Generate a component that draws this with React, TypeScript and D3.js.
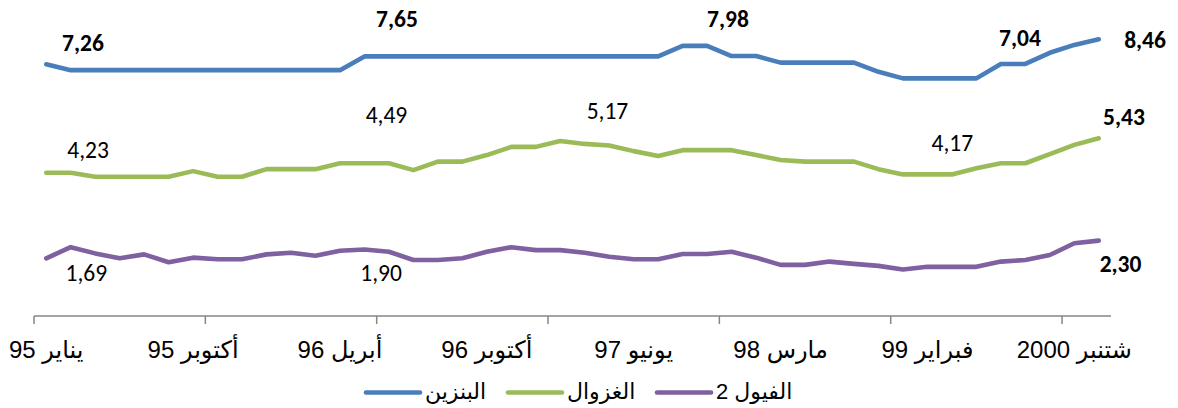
import React from 'react';
import * as d3 from 'd3';

// price series, one value per price-change date (44 dates)
const benzine = [
  7.68, 7.5, 7.5, 7.5, 7.5, 7.5, 7.5, 7.5, 7.5, 7.5, 7.5, 7.5, 7.5,
  7.92, 7.92, 7.92, 7.92, 7.92, 7.92, 7.92, 7.92, 7.92, 7.92, 7.92, 7.92, 7.92,
  8.24, 8.24, 7.93, 7.93, 7.73, 7.73, 7.73, 7.73, 7.45, 7.25, 7.25, 7.25, 7.25,
  7.69, 7.69, 8.03, 8.27, 8.44,
];
const gasoil = [
  4.37, 4.37, 4.25, 4.25, 4.25, 4.25, 4.42, 4.25, 4.25, 4.48, 4.48, 4.48, 4.66,
  4.66, 4.66, 4.45, 4.71, 4.71, 4.91, 5.16, 5.16, 5.34, 5.25, 5.2, 5.03, 4.88,
  5.06, 5.06, 5.06, 4.91, 4.76, 4.71, 4.71, 4.71, 4.48, 4.32, 4.32, 4.32, 4.51,
  4.66, 4.66, 4.94, 5.22, 5.42,
];
const fuel2 = [
  1.76, 2.1, 1.91, 1.76, 1.88, 1.64, 1.78, 1.73, 1.73, 1.88, 1.93, 1.84, 1.99,
  2.03, 1.96, 1.71, 1.71, 1.76, 1.96, 2.1, 2.01, 2.01, 1.93, 1.81, 1.73, 1.73,
  1.89, 1.89, 1.96, 1.78, 1.56, 1.56, 1.66, 1.59, 1.53, 1.42, 1.5, 1.5, 1.5,
  1.66, 1.71, 1.86, 2.22, 2.3,
];

const tickLabels = [
  'يناير 95', 'أكتوبر 95', 'أبريل 96', 'أكتوبر 96',
  'يونيو 97', 'مارس 98', 'فبراير 99', 'شتنبر 2000',
];
const labelEvery = 6;
const tickEvery = 7;

const seriesNames = ['البنزين', 'الغزوال', 'الفيول 2'];
const seriesColors = ['#4a7ebb', '#9bbb59', '#7f60a0'];

// value labels: text, category position, value position, bold
const valueLabels: [string, number, number, boolean][] = [
  ['7,26', 1.5, 8.08, true],
  ['7,65', 14.33, 8.82, true],
  ['7,98', 27.85, 8.83, true],
  ['7,04', 39.78, 8.24, true],
  ['8,46', 44.89, 8.18, true],
  ['4,23', 1.71, 4.82, false],
  ['4,49', 13.9, 5.89, false],
  ['5,17', 22.93, 6.01, false],
  ['4,17', 37.02, 5.02, false],
  ['5,43', 44.03, 5.83, true],
  ['1,69', 1.64, 1.07, false],
  ['1,90', 13.68, 1.07, false],
  ['2,30', 43.89, 1.33, true],
];

const W = 1178;
const H = 408;
const axisFont = '"Liberation Sans", Arial, "DejaVu Sans", sans-serif';
const labelFont = 'Carlito, Calibri, Lato, sans-serif';

export default function App() {
  const n = benzine.length;
  const x = d3.scaleLinear().domain([0, n]).range([34, 1111]);
  const y = d3.scaleLinear().domain([0, 9]).range([316, 21]);

  const line = d3
    .line<number>()
    .x((_, i) => x(i + 0.5))
    .y((d) => y(d));

  const series = [benzine, gasoil, fuel2];
  const ticks = d3.range(0, n, tickEvery);

  // legend layout
  const legendX = [366, 508, 657];
  const legendY = 392.5;

  return (
    <svg
      width={W}
      height={H}
      style={{ position: 'absolute', left: 0, top: 0, background: '#fff' }}
    >
      {series.map((s, k) => (
        <path
          key={k}
          d={line(s) || ''}
          fill="none"
          stroke={seriesColors[k]}
          strokeWidth={4.6}
          strokeLinejoin="round"
          strokeLinecap="round"
        />
      ))}

      {/* x axis */}
      <line x1={x(0)} x2={x(n)} y1={y(0)} y2={y(0)} stroke="#868686" strokeWidth={1.5} />
      {ticks.map((t) => (
        <line key={t} x1={x(t)} x2={x(t)} y1={y(0)} y2={y(0) + 8} stroke="#868686" strokeWidth={1.5} />
      ))}
      {tickLabels.map((lab, i) => (
        <text
          key={lab}
          x={x(i * labelEvery + 0.5)}
          y={358}
          textAnchor="middle"
          fontFamily={axisFont}
          fontSize={24}
          fill="#000"
        >
          {lab}
        </text>
      ))}

      {/* value labels */}
      {valueLabels.map(([t, ci, v, b]) => (
        <text
          key={t}
          x={x(ci + 0.5)}
          y={y(v)}
          textAnchor="middle"
          fontFamily={labelFont}
          fontSize={23.5}
          fontWeight={b ? 'bold' : 'normal'}
          fill="#000"
        >
          {t}
        </text>
      ))}

      {/* legend */}
      {seriesNames.map((name, k) => (
        <g key={name} transform={`translate(${legendX[k]},${legendY})`}>
          <line x1={0} x2={54} y1={0} y2={0} stroke={seriesColors[k]} strokeWidth={4.6} strokeLinecap="round" />
          <text x={59} y={6} fontFamily={axisFont} fontSize={22} fill="#000" direction="rtl" textAnchor="end">
            {name}
          </text>
        </g>
      ))}
    </svg>
  );
}
